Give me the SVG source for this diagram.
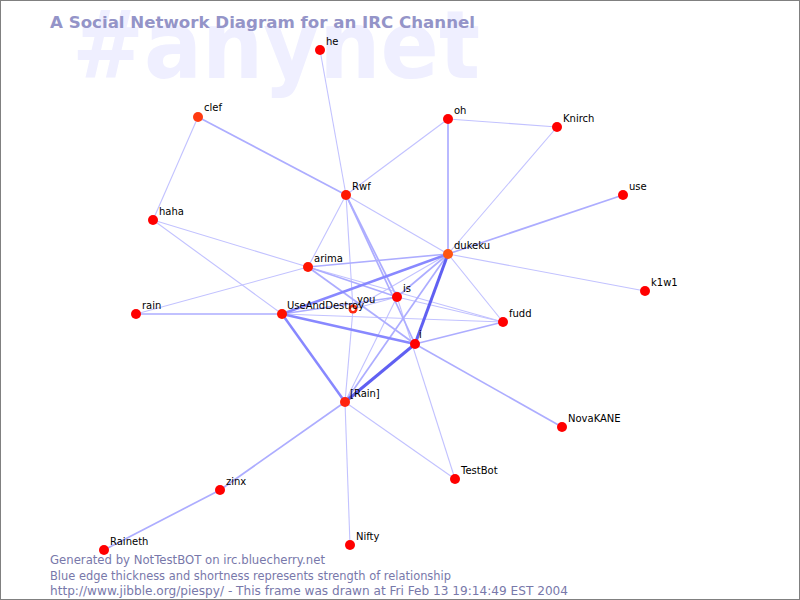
<svg xmlns="http://www.w3.org/2000/svg" width="800" height="600" viewBox="0 0 800 600">
<defs>
<style>
.wm{font-family:"DejaVu Sans",sans-serif;font-weight:bold;font-size:94px;fill:#efefff}
.title{font-family:"DejaVu Sans",sans-serif;font-weight:bold;font-size:16px;fill:#9494c8}
.foot{font-family:"DejaVu Sans",sans-serif;font-size:11.5px;fill:#7878aa}
.lbl{font-family:"DejaVu Sans",sans-serif;font-size:10px;fill:#000}
.t1{stroke:#c2c2ff;stroke-width:1.1;fill:none}
.t2{stroke:#adadff;stroke-width:1.7;fill:none}
.t3{stroke:#8888ff;stroke-width:2.5;fill:none}
.t4{stroke:#6060f2;stroke-width:3;fill:none}
.n{fill:#ff0000}
</style>
</defs>
<rect x="0" y="0" width="800" height="600" fill="#ffffff"/>
<text class="wm" x="72" y="78" textLength="408" lengthAdjust="spacingAndGlyphs">#anynet</text>
<text class="title" x="50" y="28" textLength="425" lengthAdjust="spacingAndGlyphs">A Social Network Diagram for an IRC Channel</text>
<g id="connectors">
<line class="t1" x1="320" y1="50" x2="346" y2="195"/>
<line class="t1" x1="198" y1="117" x2="153" y2="220"/>
<line class="t1" x1="448" y1="119" x2="346" y2="195"/>
<line class="t1" x1="448" y1="119" x2="557" y2="127"/>
<line class="t1" x1="557" y1="127" x2="448" y2="254"/>
<line class="t1" x1="645" y1="291" x2="448" y2="254"/>
<line class="t1" x1="346" y1="195" x2="448" y2="254"/>
<line class="t1" x1="346" y1="195" x2="308" y2="267"/>
<line class="t1" x1="153" y1="220" x2="308" y2="267"/>
<line class="t1" x1="153" y1="220" x2="282" y2="314"/>
<line class="t1" x1="308" y1="267" x2="136" y2="314"/>
<line class="t1" x1="448" y1="254" x2="503" y2="322"/>
<line class="t1" x1="282" y1="314" x2="503" y2="322"/>
<line class="t1" x1="308" y1="267" x2="503" y2="322"/>
<line class="t1" x1="397" y1="297" x2="503" y2="322"/>
<line class="t1" x1="345" y1="402" x2="350" y2="545"/>
<line class="t1" x1="345" y1="402" x2="455" y2="479"/>
<line class="t1" x1="397" y1="297" x2="455" y2="479"/>
<line class="t1" x1="345" y1="402" x2="397" y2="297"/>
<line class="t1" x1="353" y1="309" x2="397" y2="297"/>
<line class="t1" x1="346" y1="195" x2="353" y2="309"/>
<line class="t1" x1="353" y1="309" x2="345" y2="402"/>
<line class="t1" x1="448" y1="254" x2="353" y2="309"/>
<line class="t2" x1="198" y1="117" x2="346" y2="195"/>
<line class="t2" x1="448" y1="119" x2="448" y2="254"/>
<line class="t2" x1="623" y1="195" x2="448" y2="254"/>
<line class="t2" x1="346" y1="195" x2="397" y2="297"/>
<line class="t2" x1="346" y1="195" x2="415" y2="344"/>
<line class="t2" x1="308" y1="267" x2="448" y2="254"/>
<line class="t2" x1="308" y1="267" x2="397" y2="297"/>
<line class="t2" x1="308" y1="267" x2="415" y2="344"/>
<line class="t2" x1="282" y1="314" x2="136" y2="314"/>
<line class="t2" x1="282" y1="314" x2="397" y2="297"/>
<line class="t2" x1="448" y1="254" x2="397" y2="297"/>
<line class="t2" x1="448" y1="254" x2="345" y2="402"/>
<line class="t2" x1="415" y1="344" x2="503" y2="322"/>
<line class="t2" x1="415" y1="344" x2="562" y2="427"/>
<line class="t2" x1="345" y1="402" x2="220" y2="490"/>
<line class="t2" x1="220" y1="490" x2="104" y2="550"/>
<line class="t3" x1="282" y1="314" x2="448" y2="254"/>
<line class="t3" x1="282" y1="314" x2="415" y2="344"/>
<line class="t3" x1="282" y1="314" x2="345" y2="402"/>
<line class="t4" x1="448" y1="254" x2="415" y2="344"/>
<line class="t4" x1="415" y1="344" x2="345" y2="402"/>
</g>
<g id="node-he"><circle class="n" cx="320" cy="50" r="5"/><text class="lbl" x="326" y="44.5">he</text></g>
<g id="node-clef"><circle cx="198" cy="117" r="5" fill="#ff3a10"/><text class="lbl" x="204" y="111">clef</text></g>
<g id="node-oh"><circle class="n" cx="448" cy="119" r="5"/><text class="lbl" x="454" y="113.5">oh</text></g>
<g id="node-Knirch"><circle class="n" cx="557" cy="127" r="5"/><text class="lbl" x="563" y="121.5">Knirch</text></g>
<g id="node-Rwf"><circle cx="346" cy="195" r="5" fill="#ff1800"/><text class="lbl" x="352" y="189.5">Rwf</text></g>
<g id="node-use"><circle class="n" cx="623" cy="195" r="5"/><text class="lbl" x="629" y="189.5">use</text></g>
<g id="node-haha"><circle class="n" cx="153" cy="220" r="5"/><text class="lbl" x="159" y="214.5">haha</text></g>
<g id="node-dukeku"><circle cx="448" cy="254" r="5" fill="#ff5514"/><text class="lbl" x="454" y="248.5">dukeku</text></g>
<g id="node-arima"><circle cx="308" cy="267" r="5" fill="#ff1400"/><text class="lbl" x="314" y="261.5">arima</text></g>
<g id="node-k1w1"><circle class="n" cx="645" cy="291" r="5"/><text class="lbl" x="651" y="285.5">k1w1</text></g>
<g id="node-is"><circle class="n" cx="397" cy="297" r="5"/><text class="lbl" x="403" y="291.5">is</text></g>
<g id="node-you"><circle cx="353" cy="309" r="4.5" fill="#ff2a10"/><circle cx="353" cy="309" r="2" fill="#ffffff"/><text class="lbl" x="357" y="302.5">you</text></g>
<g id="node-rain"><circle class="n" cx="136" cy="314" r="5"/><text class="lbl" x="142" y="308.5">rain</text></g>
<g id="node-UseAndDestroy"><circle cx="282" cy="314" r="5" fill="#ff1000"/><text class="lbl" x="287" y="308.5">UseAndDestroy</text></g>
<g id="node-fudd"><circle class="n" cx="503" cy="322" r="5"/><text class="lbl" x="509" y="316.5">fudd</text></g>
<g id="node-i"><circle class="n" cx="415" cy="344" r="5"/><text class="lbl" x="419" y="338">i</text></g>
<g id="node-Rain"><circle cx="345" cy="402" r="5" fill="#ff2410"/><text class="lbl" x="350" y="396.5">[Rain]</text></g>
<g id="node-NovaKANE"><circle class="n" cx="562" cy="427" r="5"/><text class="lbl" x="568" y="421.5">NovaKANE</text></g>
<g id="node-TestBot"><circle class="n" cx="455" cy="479" r="5"/><text class="lbl" x="461" y="473.5">TestBot</text></g>
<g id="node-zinx"><circle class="n" cx="220" cy="490" r="5"/><text class="lbl" x="226" y="484.5">zinx</text></g>
<g id="node-Raineth"><circle class="n" cx="104" cy="550" r="5"/><text class="lbl" x="110" y="544.5">Raineth</text></g>
<g id="node-Nifty"><circle class="n" cx="350" cy="545" r="5"/><text class="lbl" x="356" y="539.5">Nifty</text></g>
<text class="foot" x="50" y="564" textLength="275" lengthAdjust="spacingAndGlyphs">Generated by NotTestBOT on irc.bluecherry.net</text>
<text class="foot" x="50" y="580" textLength="401" lengthAdjust="spacingAndGlyphs">Blue edge thickness and shortness represents strength of relationship</text>
<text class="foot" x="50" y="595" textLength="518" lengthAdjust="spacingAndGlyphs">http://www.jibble.org/piespy/ - This frame was drawn at Fri Feb 13 19:14:49 EST 2004</text>
<rect x="0" y="0" width="800" height="600" fill="none" stroke="#808080" stroke-width="2"/>
</svg>
